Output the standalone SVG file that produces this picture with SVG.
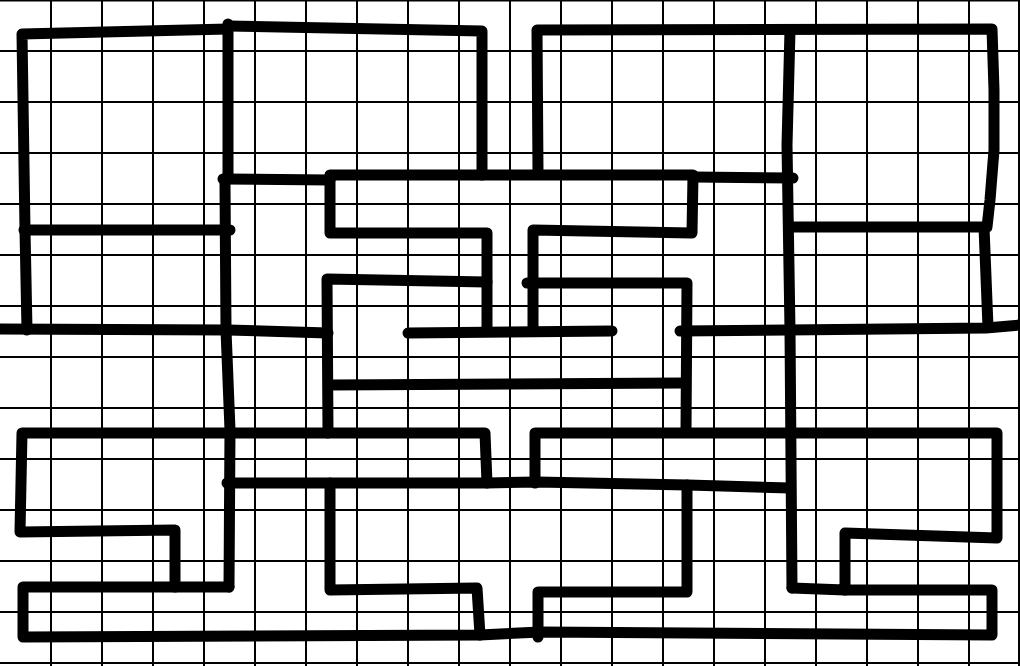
<svg xmlns="http://www.w3.org/2000/svg" width="1020" height="666" viewBox="0 0 1020 666">
<style>
.grid{stroke:#000;stroke-width:2;fill:none}
.ink{stroke:#000;stroke-width:11;fill:none;stroke-linecap:round;stroke-linejoin:round}
</style>
<rect width="1020" height="666" fill="#fff"/>
<path class="grid" d="M51,0V666M102,0V666M153,0V666M204,0V666M255,0V666M306,0V666M357,0V666M408,0V666M459,0V666M510,0V666M561,0V666M612,0V666M663,0V666M714,0V666M765,0V666M816,0V666M867,0V666M918,0V666M969,0V666M1019,0V666M0,0.5H1020M0,51H1020M0,102H1020M0,153H1020M0,204H1020M0,255H1020M0,306H1020M0,357H1020M0,408H1020M0,459H1020M0,510H1020M0,561H1020M0,612H1020M0,663H1020"/>
<g id="strokes">
<path class="ink" d="M228,29 L22,34 L25,230 L27,330"/>
<path class="ink" d="M24,230 L230,230"/>
<path class="ink" d="M0,329 L228,330 L328,333"/>
<path class="ink" d="M228,24 L228,178 L225,183 L226,330 L230,430 L229,587"/>
<path class="ink" d="M228,26 L482,31 L482,175"/>
<path class="ink" d="M223,179 L330,180"/>
<path class="ink" d="M487,330 L487,233 L330,233 L330,175 L693,175 L692,233 L533,230 L533,330"/>
<path class="ink" d="M693,177 L793,178"/>
<path class="ink" d="M538,173 L537,30 L992,29 L994,90 L994,150 L990,200 L987,227 L793,227"/>
<path class="ink" d="M984,227 L988,327"/>
<path class="ink" d="M790,30 L787,145 L790,330 L792,588"/>
<path class="ink" d="M680,331 L986,328 L1020,325"/>
<path class="ink" d="M487,282 L327,279 L328,433"/>
<path class="ink" d="M527,283 L687,283 L686,430"/>
<path class="ink" d="M408,333 L612,331"/>
<path class="ink" d="M330,385 L683,383"/>
<path class="ink" d="M227,483 L487,483 L537,482 L688,485 L790,488"/>
<path class="ink" d="M487,483 L485,433 L22,433 L20,532 L175,530 L175,587"/>
<path class="ink" d="M229,587 L23,587 L23,637 L480,635 L540,632 L992,635 L992,590 L845,590"/>
<path class="ink" d="M330,483 L330,590 L477,588 L480,635"/>
<path class="ink" d="M538,637 L538,592 L687,592 L687,485"/>
<path class="ink" d="M535,483 L535,433 L997,433 L997,538 L845,533 L845,590 L792,588"/>
</g>
</svg>
